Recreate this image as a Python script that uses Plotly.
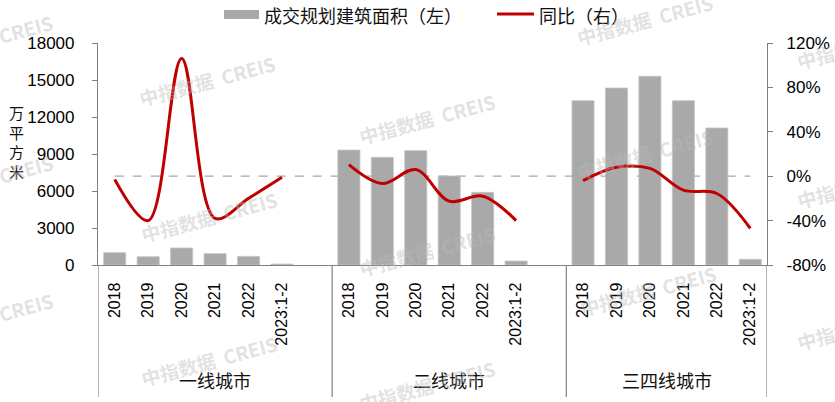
import plotly.graph_objects as go

# ---------------- data ----------------
groups = ["一线城市", "二线城市", "三四线城市"]
periods = ["2018", "2019", "2020", "2021", "2022", "2023:1-2"]

area_tier1 = [1000, 670, 1380, 920, 700, 80]
area_tier2 = [9320, 8730, 9270, 7220, 5890, 320]
area_tier3 = [13320, 14350, 15300, 13320, 11110, 460]

yoy_tier1 = [-0.03, -0.40, 1.06, -0.38, -0.20, -0.01]
yoy_tier2 = [0.105, -0.066, 0.06, -0.225, -0.18, -0.40]
yoy_tier3 = [-0.04, 0.08, 0.07, -0.126, -0.156, -0.47]

left_ticks = [0, 3000, 6000, 9000, 12000, 15000, 18000]
left_tick_text = ["0", "3000", "6000", "9000", "12000", "15000", "18000"]
right_ticks = [-0.8, -0.4, 0, 0.4, 0.8, 1.2]
right_tick_text = ["-80%", "-40%", "0%", "40%", "80%", "120%"]

bar_name = "成交规划建筑面积（左）"
line_name = "同比（右）"
y_title = "万平方米"
watermark = "中指数据  CREIS"

# ---------------- layout helpers ----------------
W, H = 835, 402
ML, MR, MT, MB = 98, 68, 43, 137
PW, PH = W - ML - MR, H - MT - MB
slots_per_group = 7


def px(x):
    return (x - ML) / PW


def py(y):
    return (H - MB - y) / PH


areas = [area_tier1, area_tier2, area_tier3]
yoys = [yoy_tier1, yoy_tier2, yoy_tier3]

bar_x, bar_y, line_x, line_y, tick_pos, tick_txt = [], [], [], [], [], []
for g in range(len(groups)):
    for i, p in enumerate(periods):
        pos = g * slots_per_group + i
        bar_x.append(pos)
        bar_y.append(areas[g][i])
        line_x.append(pos)
        line_y.append(yoys[g][i])
        tick_pos.append(pos)
        tick_txt.append(p)
    line_x.append(None)
    line_y.append(None)

n_slots = slots_per_group * (len(groups) - 1) + len(periods)
x_range = [-0.5, n_slots - 0.5]

fig = go.Figure()
fig.add_trace(go.Bar(
    x=bar_x, y=bar_y, name=bar_name, width=0.66,
    marker=dict(color="#a9a9a9", line=dict(color="#c4c4c4", width=0.8)),
    showlegend=False,
))
fig.add_trace(go.Scatter(
    x=line_x, y=line_y, name=line_name, yaxis="y2", mode="lines",
    line=dict(color="#c00000", width=3, shape="spline", smoothing=1.0),
    connectgaps=False, showlegend=False,
))

axis_col = "#808080"
font_latin = "Liberation Sans, Arial, sans-serif"
font_cjk = "Noto Sans CJK SC, sans-serif"

shapes = []
annotations = []

# zero reference line (dashed, behind bars)
shapes.append(dict(type="line", xref="x", yref="y2", layer="below",
                   x0=min(tick_pos), x1=max(tick_pos), y0=0, y1=0,
                   line=dict(color="#a6a6a6", width=1.3, dash="dash")))

# group separators
sep_bottom = py(397)
seps = [x_range[0]] + [g * slots_per_group - 0.5 for g in range(1, len(groups))] + [x_range[1]]
for s in seps:
    shapes.append(dict(type="line", xref="x", yref="paper", x0=s, x1=s,
                       y0=0, y1=sep_bottom, line=dict(color=axis_col, width=1.2)))

# group labels
for g, name in enumerate(groups):
    lo = seps[g]
    hi = seps[g + 1]
    annotations.append(dict(text=name, xref="x", yref="paper", x=(lo + hi) / 2,
                            y=py(380), showarrow=False, xanchor="center", yanchor="middle",
                            font=dict(family=font_cjk, size=18, color="#111")))

# y title (stacked characters)
annotations.append(dict(text="<br>".join(y_title), xref="paper", yref="paper", x=px(16),
                        y=py(142), showarrow=False, xanchor="center", yanchor="middle",
                        font=dict(family=font_cjk, size=15, color="#111")))

# legend (manual)
shapes.append(dict(type="rect", xref="paper", yref="paper", x0=px(224), x1=px(259),
                   y0=py(19), y1=py(10), fillcolor="#a9a9a9", line=dict(width=0)))
annotations.append(dict(text=bar_name, xref="paper", yref="paper", x=px(262), y=py(15),
                        showarrow=False, xanchor="left", yanchor="middle",
                        font=dict(family=font_cjk, size=18, color="#111")))
shapes.append(dict(type="line", xref="paper", yref="paper", x0=px(497), x1=px(534),
                   y0=py(14), y1=py(14), line=dict(color="#c00000", width=3)))
annotations.append(dict(text=line_name, xref="paper", yref="paper", x=px(537), y=py(15),
                        showarrow=False, xanchor="left", yanchor="middle",
                        font=dict(family=font_cjk, size=18, color="#111")))

# watermarks
wm_centers = [(-15, 40), (-15, 179), (-15, 317),
              (207, 80), (209, 216), (209, 360),
              (427, 118), (427, 250), (427, 385),
              (645, 20), (645, 153), (648, 290),
              (865, 44), (865, 182), (865, 324)]
for cx, cy in wm_centers:
    annotations.append(dict(text="<b>" + watermark + "</b>", xref="paper", yref="paper",
                            x=px(cx), y=py(cy), showarrow=False, textangle=-15,
                            xanchor="center", yanchor="middle",
                            font=dict(family="Noto Sans CJK SC, sans-serif", size=19,
                                      color="rgba(185,185,185,0.42)")))

fig.update_layout(
    width=W, height=H,
    margin=dict(l=ML, r=MR, t=MT, b=MB, pad=0, autoexpand=False),
    paper_bgcolor="white", plot_bgcolor="white",
    bargap=0.3,
    xaxis=dict(range=x_range, tickmode="array", tickvals=tick_pos, ticktext=tick_txt,
               tickangle=-90, showgrid=False, zeroline=False, showline=True,
               linecolor=axis_col, linewidth=1.2, ticks="", ticklabelstandoff=10,
               automargin=False,
               tickfont=dict(family=font_latin, size=16, color="#000")),
    yaxis=dict(range=[0, 18000], tickmode="array", tickvals=left_ticks, ticktext=left_tick_text,
               showgrid=False, zeroline=False, showline=True, linecolor=axis_col, linewidth=1.2,
               ticks="outside", ticklen=5, tickcolor=axis_col, ticklabelstandoff=14,
               automargin=False,
               tickfont=dict(family=font_latin, size=17, color="#000")),
    yaxis2=dict(range=[-0.8, 1.2], overlaying="y", side="right", tickmode="array",
                tickvals=right_ticks, ticktext=right_tick_text, showgrid=False, zeroline=False,
                showline=True, linecolor=axis_col, linewidth=1.2, ticks="outside", ticklen=5,
                tickcolor=axis_col, ticklabelstandoff=10, automargin=False,
                tickfont=dict(family=font_latin, size=17, color="#000")),
    shapes=shapes,
    annotations=annotations,
    showlegend=False,
)

fig.write_html("out.html", config={"displayModeBar": False},
               post_script="document.body.style.margin='0';")
